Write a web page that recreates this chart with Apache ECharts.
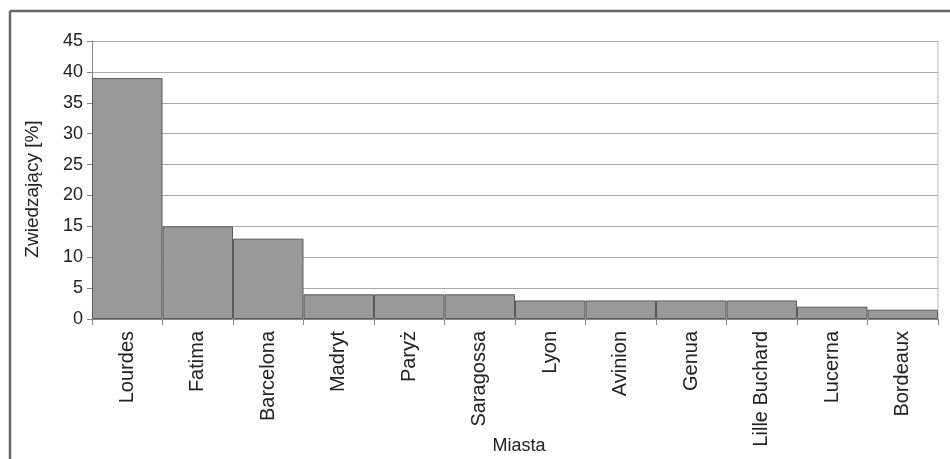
<!DOCTYPE html>
<html>
<head>
<meta charset="utf-8">
<script src="https://cdn.jsdelivr.net/npm/echarts@6/dist/echarts.min.js"></script>
<style>
html,body{margin:0;padding:0;background:#fff;}
#chart{width:950px;height:459px;}
</style>
</head>
<body>
<div id="chart"></div>
<script>
const categories = ['Lourdes','Fatima','Barcelona','Madryt','Paryż','Saragossa','Lyon','Avinion','Genua','Lille Buchard','Lucerna','Bordeaux'];
const values = [39, 15, 13, 4, 4, 4, 3, 3, 3, 3, 2, 1.5];
const yTitle = 'Zwiedzający [%]';
const xTitle = 'Miasta';

const chart = echarts.init(document.getElementById('chart'), null, {renderer:'canvas'});
const font = 'Arial, "Liberation Sans", sans-serif';
chart.setOption({
  animation:false,
  backgroundColor:'#fff',
  graphic:[
    {type:'line', shape:{x1:10,y1:11,x2:950,y2:11}, style:{stroke:'#666',lineWidth:2.5}},
    {type:'line', shape:{x1:10,y1:11,x2:10,y2:459}, style:{stroke:'#666',lineWidth:2.5}},
    {type:'line', shape:{x1:938,y1:41,x2:938,y2:319}, style:{stroke:'#bbb',lineWidth:1}, z:0}
  ],
  grid:{left:92,right:12,top:41,bottom:140,containLabel:false,outerBoundsMode:'none'},
  xAxis:{
    type:'category',
    data:categories,
    boundaryGap:true,
    name:xTitle,
    nameLocation:'middle',
    nameGap:118,
    nameMoveOverlap:false,
    nameTextStyle:{fontFamily:font,fontSize:18,color:'#222',padding:[0,0,0,8]},
    axisLine:{show:true,lineStyle:{color:'#888',width:1}},
    axisTick:{show:true,alignWithLabel:false,length:6,lineStyle:{color:'#888'}},
    axisLabel:{rotate:90,margin:12,fontFamily:font,fontSize:20,color:'#222',interval:0},
    splitLine:{show:false}
  },
  yAxis:{
    type:'value',
    min:0,max:45,interval:5,
    name:yTitle,
    nameLocation:'middle',
    nameGap:50,
    nameRotate:90,
    nameMoveOverlap:false,
    nameTextStyle:{fontFamily:font,fontSize:19,color:'#222',padding:[0,18,0,0]},
    axisLine:{show:true,lineStyle:{color:'#888',width:1}},
    axisTick:{show:true,length:5,lineStyle:{color:'#888'}},
    axisLabel:{margin:9,fontFamily:font,fontSize:18,color:'#222'},
    splitLine:{show:true,lineStyle:{color:'#aaa',width:1}}
  },
  series:[{
    type:'bar',
    data:values,
    barCategoryGap:'0%',
    itemStyle:{color:'#999999',borderColor:'#5a5a5a',borderWidth:1}
  }]
});
</script>
</body>
</html>
